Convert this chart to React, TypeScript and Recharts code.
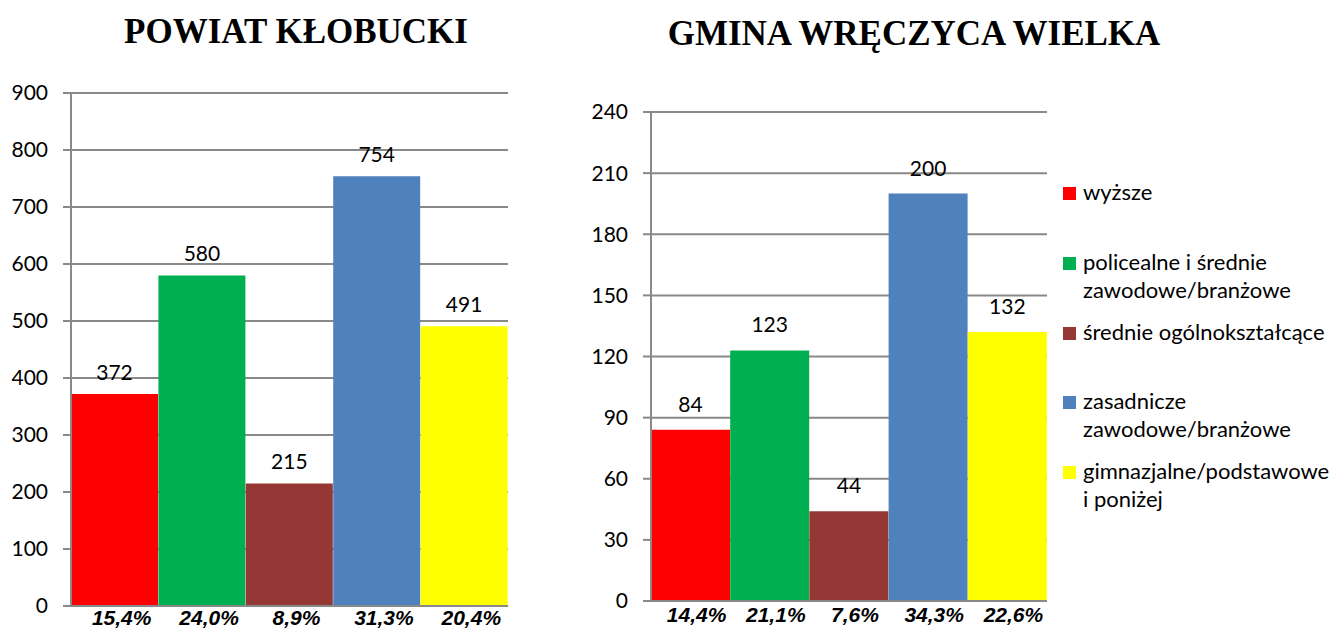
import React from "react"
import { Bar, BarChart, CartesianGrid, Cell, LabelList, Legend, XAxis, YAxis } from "recharts"

const categories = [
  "wyższe",
  "policealne i średnie\nzawodowe/branżowe",
  "średnie ogólnokształcące",
  "zasadnicze\nzawodowe/branżowe",
  "gimnazjalne/podstawowe\ni poniżej",
]
const colors = ["#FF0000", "#00B050", "#953735", "#4F81BD", "#FFFF00"]

const powiatValues = [372, 580, 215, 754, 491]
const powiatPct = ["15,4%", "24,0%", "8,9%", "31,3%", "20,4%"]
const powiatTicks = [0, 100, 200, 300, 400, 500, 600, 700, 800, 900]

const gminaValues = [84, 123, 44, 200, 132]
const gminaPct = ["14,4%", "21,1%", "7,6%", "34,3%", "22,6%"]
const gminaTicks = [0, 30, 60, 90, 120, 150, 180, 210, 240]

const powiatData = categories.map((name, i) => ({ name, value: powiatValues[i], pct: powiatPct[i] }))
const gminaData = categories.map((name, i) => ({ name, value: gminaValues[i], pct: gminaPct[i] }))

const gray = "#898989"
const sans = "Lato, 'Noto Sans', sans-serif"
const pctFont = "'Liberation Sans', Arial, sans-serif"

const titleStyle: React.CSSProperties = {
  position: "absolute",
  fontFamily: "'Liberation Serif', 'Times New Roman', serif",
  fontWeight: "bold",
  fontSize: 35,
  color: "#000",
  textAlign: "center",
  whiteSpace: "nowrap",
}

function LegendBox() {
  return (
    <div style={{ fontFamily: sans, fontSize: 22, color: "#000", paddingLeft: 16 }}>
      {categories.map((c, i) => (
        <div key={c} style={{ display: "flex", alignItems: "flex-start", height: 69.75 }}>
          <div
            style={{
              width: 13,
              height: 13,
              background: colors[i],
              marginTop: 8,
              marginRight: 7,
              flexShrink: 0,
            }}
          />
          <div style={{ whiteSpace: "pre", lineHeight: "28px", marginTop: -1 }}>{c}</div>
        </div>
      ))}
    </div>
  )
}

export default function App() {
  return (
    <div style={{ position: "absolute", left: 0, top: 0, width: 1337, height: 628, background: "#fff" }}>
      <div style={{ ...titleStyle, left: 96, top: 12, width: 400 }}>POWIAT KŁOBUCKI</div>
      <div style={{ ...titleStyle, left: 664, top: 14, width: 500 }}>GMINA WRĘCZYCA WIELKA</div>

      <div style={{ position: "absolute", left: 0, top: 0 }}>
        <BarChart
          width={520}
          height={628}
          data={powiatData}
          barCategoryGap={0}
          margin={{ top: 93, right: 12, left: 0, bottom: 0 }}
        >
          <CartesianGrid vertical={false} stroke={gray} strokeWidth={2} />
          <XAxis
            dataKey="pct"
            interval={0}
            height={22}
            tickLine={false}
            tickSize={0}
            tickMargin={4}
            axisLine={{ stroke: gray, strokeWidth: 2 }}
            tick={{ fill: "#000", fontSize: 21, fontWeight: "bold", fontStyle: "italic", fontFamily: pctFont, dx: 7 }}
          />
          <YAxis
            width={71}
            domain={[0, 900]}
            ticks={powiatTicks}
            interval={0}
            tickSize={8}
            tickMargin={15}
            axisLine={{ stroke: gray, strokeWidth: 2 }}
            tickLine={{ stroke: gray, strokeWidth: 2 }}
            tick={{ fill: "#000", fontSize: 21, fontFamily: sans }}
          />
          <Bar dataKey="value" isAnimationActive={false}>
            {powiatData.map((d, i) => (
              <Cell key={d.name} fill={colors[i]} />
            ))}
            <LabelList dataKey="value" position="top" offset={14} fill="#000" fontSize={21} fontFamily={sans} />
          </Bar>
        </BarChart>
      </div>

      <div style={{ position: "absolute", left: 560, top: 0 }}>
        <BarChart
          width={777}
          height={628}
          data={gminaData}
          barCategoryGap={0}
          margin={{ top: 112, right: 20, left: 20, bottom: 0 }}
        >
          <CartesianGrid vertical={false} stroke={gray} strokeWidth={2} />
          <XAxis
            dataKey="pct"
            interval={0}
            height={27}
            tickLine={false}
            tickSize={0}
            tickMargin={6}
            axisLine={{ stroke: gray, strokeWidth: 2 }}
            tick={{ fill: "#000", fontSize: 21, fontWeight: "bold", fontStyle: "italic", fontFamily: pctFont, dx: 6 }}
          />
          <YAxis
            width={71}
            domain={[0, 240]}
            ticks={gminaTicks}
            interval={0}
            tickSize={8}
            tickMargin={15}
            axisLine={{ stroke: gray, strokeWidth: 2 }}
            tickLine={{ stroke: gray, strokeWidth: 2 }}
            tick={{ fill: "#000", fontSize: 21, fontFamily: sans }}
          />
          <Legend
            layout="vertical"
            align="right"
            verticalAlign="top"
            width={270}
            wrapperStyle={{ top: 179, right: 20 }}
            content={() => <LegendBox />}
          />
          <Bar dataKey="value" isAnimationActive={false}>
            {gminaData.map((d, i) => (
              <Cell key={d.name} fill={colors[i]} />
            ))}
            <LabelList dataKey="value" position="top" offset={18} fill="#000" fontSize={21} fontFamily={sans} />
          </Bar>
        </BarChart>
      </div>
    </div>
  )
}
